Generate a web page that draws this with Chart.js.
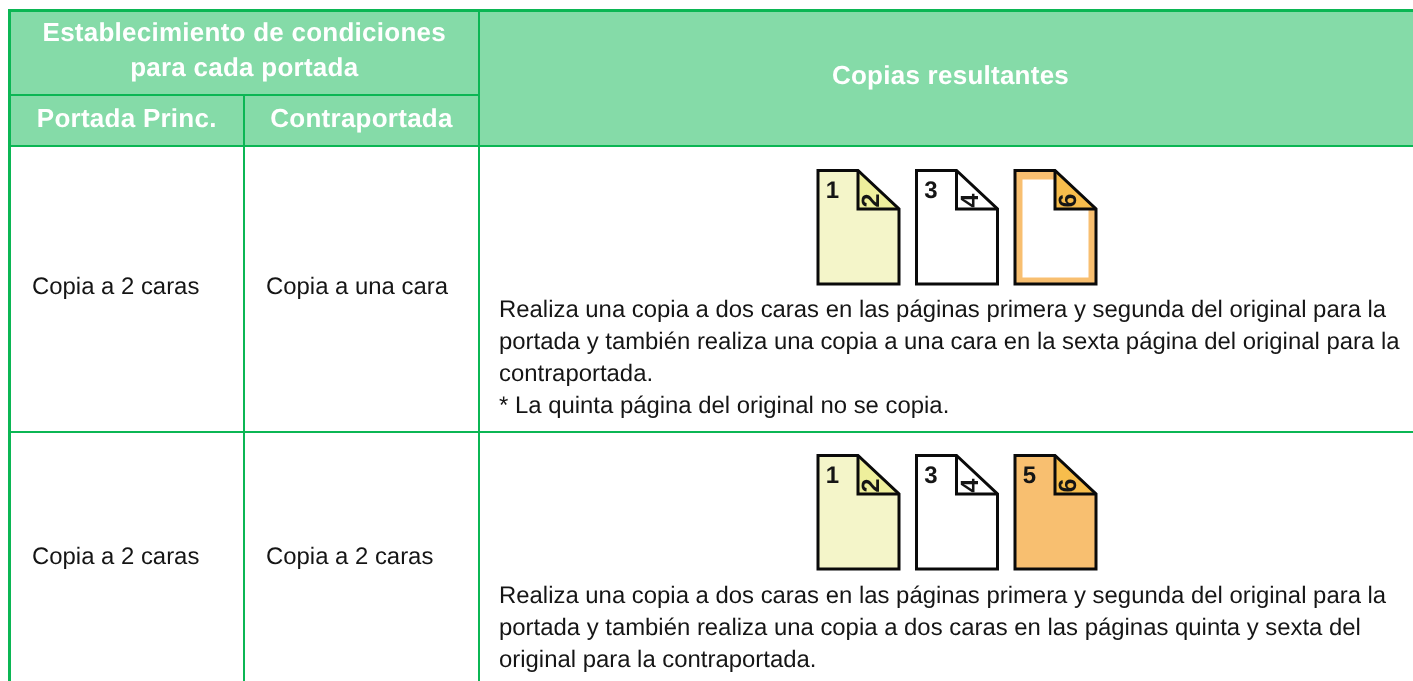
<!DOCTYPE html>
<html>
<head>
<meta charset="utf-8">
<title>Copias resultantes</title>
<script src="https://cdn.jsdelivr.net/npm/chart.js@4/dist/chart.umd.min.js"></script>
<style>
  html, body { margin: 0; padding: 0; background: #fff; overflow: hidden; }
  canvas { display: block; }
</style>
</head>
<body>
<canvas id="myChart" width="1413" height="681"></canvas>
<script>
// Texto de la tabla
const headerGroup = ['Establecimiento de condiciones', 'para cada portada'];
const headerColumns = ['Portada Princ.', 'Contraportada'];
const headerResult = 'Copias resultantes';
const frontCover = ['Copia a 2 caras', 'Copia a 2 caras'];
const backCover = ['Copia a una cara', 'Copia a 2 caras'];
const descriptions = [
  [
    'Realiza una copia a dos caras en las páginas primera y segunda del original para la',
    'portada y también realiza una copia a una cara en la sexta página del original para la',
    'contraportada.',
    '* La quinta página del original no se copia.'
  ],
  [
    'Realiza una copia a dos caras en las páginas primera y segunda del original para la',
    'portada y también realiza una copia a dos caras en las páginas quinta y sexta del',
    'original para la contraportada.'
  ]
];

// Números de las hojas, fila por fila ('' = la cara no se copia)
const pageFronts = [['1', '3', ''], ['1', '3', '5']];
const pageBacks = [['2', '4', '6'], ['2', '4', '6']];

// Bordes de la tabla, en unidades de los ejes
const columnEdges = [9.5, 244, 479, 1413];
const rowEdges = [10.5, 95, 146, 432, 681];
const resultCentre = 950.5;
const iconLefts = [818, 916.5, 1015];
const iconTops = [170.5, 455.5];
const iconSize = { width: 81, height: 113.5, foldX: 40, foldY: 38.5 };
const blankInset = { x: 7.5, top: 9, bottom: 6.5 };

const GREEN = '#0bb654';
const HEADER = '#85dba8';
const YELLOW = ['#f4f5c9', '#eeef9c'];
const WHITE = ['#ffffff', '#ffffff'];
const ORANGE = ['#f8bf70', '#f7bd4c'];
const INK = '#151515';
const FONT = '"Liberation Sans", Arial, sans-serif';

function poly(points, fillColor, lineColor, lineWidth) {
  return {
    data: points.map(p => ({ x: p[0], y: p[1] })),
    showLine: true,
    pointRadius: 0,
    tension: 0,
    fill: fillColor ? 'shape' : false,
    backgroundColor: fillColor || 'transparent',
    borderColor: lineColor || 'transparent',
    borderWidth: lineWidth || 0,
    borderJoinStyle: 'miter',
    borderCapStyle: 'butt',
    clip: false
  };
}

function segment(x1, y1, x2, y2, width) {
  return poly([[x1, y1], [x2, y2]], null, GREEN, width);
}

function pageShapes(row, col) {
  const x = iconLefts[col], y = iconTops[row];
  const s = iconSize;
  const right = x + s.width, bottom = y + s.height;
  const fx = x + s.foldX, fy = y + s.foldY;
  const colors = col === 0 ? YELLOW : col === 1 ? WHITE : ORANGE;
  const shapes = [];
  const outline = [[x, y], [fx, y], [right, fy], [right, bottom], [x, bottom], [x, y], [fx, y]];
  shapes.push(poly(outline, colors[0]));
  // hoja sin copiar: solo queda el margen de color
  if (!pageFronts[row][col]) {
    const b = blankInset;
    shapes.push(poly([
      [x + b.x, y + b.top], [fx, y + b.top], [fx, fy], [right - b.x, fy],
      [right - b.x, bottom - b.bottom], [x + b.x, bottom - b.bottom], [x + b.x, y + b.top]
    ], '#ffffff'));
  }
  shapes.push(poly([[fx, y], [right, fy], [fx, fy], [fx, y]], colors[1]));
  shapes.push(poly(outline, null, '#0a0a0a', 3));
  shapes.push(poly([[fx, y], [fx, fy], [right, fy]], null, '#0a0a0a', 3));
  return shapes;
}

const [c0, c1, c2, c3] = columnEdges;
const [r0, r1, r2, r3, r4] = rowEdges;

const shapes = [
  poly([[c0, r0], [c3, r0], [c3, r2], [c0, r2], [c0, r0]], HEADER),
  segment(8, r0, c3, r0, 3),
  segment(c0, r1, c2, r1, 2),
  segment(c0, r2, c3, r2, 2),
  segment(c0, r3, c3, r3, 2),
  segment(c0, r0, c0, r4, 3),
  segment(c1, r1, c1, r4, 2),
  segment(c2, r0, c2, r4, 2)
];
iconTops.forEach((_, row) => iconLefts.forEach((_, col) => shapes.push(...pageShapes(row, col))));

// Chart.js pinta primero el último dataset: se invierte el orden
shapes.forEach((d, i) => { d.order = shapes.length - i; });

const tableText = {
  id: 'tableText',
  afterDatasetsDraw(chart) {
    const { ctx, scales: { x, y } } = chart;
    const put = (text, px, py, font, color, align, spacing) => {
      ctx.font = font;
      ctx.fillStyle = color;
      ctx.textAlign = align;
      ctx.textBaseline = 'alphabetic';
      ctx.letterSpacing = spacing || '0px';
      ctx.fillText(text, x.getPixelForValue(px), y.getPixelForValue(py));
    };
    ctx.save();
    ctx.textRendering = 'geometricPrecision';
    const head = 'bold 26px ' + FONT;
    const track = '0.25px';
    const mid01 = (c0 + c2) / 2;
    put(headerGroup[0], mid01, 41, head, '#fff', 'center', track);
    put(headerGroup[1], mid01, 76, head, '#fff', 'center', track);
    put(headerColumns[0], (c0 + c1) / 2, 127, head, '#fff', 'center', track);
    put(headerColumns[1], (c1 + c2) / 2, 127, head, '#fff', 'center', track);
    put(headerResult, resultCentre, 84, head, '#fff', 'center', track);

    const body = '23.9px ' + FONT;
    const lineTops = [317, 603];
    const cellBase = [294, 564];
    descriptions.forEach((lines, row) => {
      put(frontCover[row], 32, cellBase[row], body, INK, 'left');
      put(backCover[row], 266, cellBase[row], body, INK, 'left');
      lines.forEach((line, i) => put(line, 499, lineTops[row] + i * 32, body, INK, 'left'));
    });

    // números de las hojas
    const num = 'bold 24px ' + FONT;
    iconTops.forEach((top, row) => iconLefts.forEach((left, col) => {
      if (pageFronts[row][col]) put(pageFronts[row][col], left + 14.5, top + 27, num, INK, 'center');
      ctx.save();
      ctx.translate(x.getPixelForValue(left + 61), y.getPixelForValue(top + 30));
      ctx.rotate(-Math.PI / 2);
      ctx.font = 'bold 25px ' + FONT;
      ctx.letterSpacing = '0px';
      ctx.fillStyle = INK;
      ctx.textAlign = 'center';
      ctx.textBaseline = 'alphabetic';
      ctx.fillText(pageBacks[row][col], 0, 0);
      ctx.restore();
    }));
    ctx.restore();
  }
};

const tableChart = new Chart(document.getElementById('myChart'), {
  type: 'scatter',
  data: { datasets: shapes },
  options: {
    responsive: false,
    animation: false,
    layout: { padding: 0 },
    plugins: {
      legend: { display: false },
      tooltip: { enabled: false }
    },
    scales: {
      x: { type: 'linear', display: false, min: 0, max: 1413 },
      y: { type: 'linear', display: false, min: 0, max: 681, reverse: true }
    }
  },
  plugins: [tableText]
});
</script>
</body>
</html>
